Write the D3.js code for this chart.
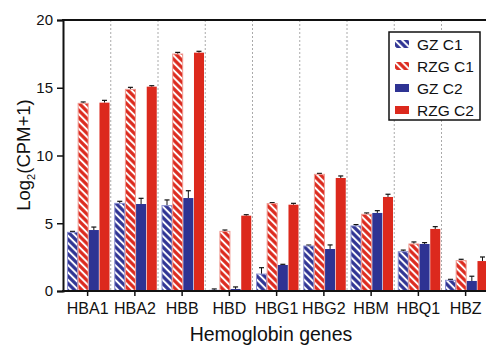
<!DOCTYPE html>
<html>
<head>
<meta charset="utf-8">
<script src="https://cdn.jsdelivr.net/npm/d3@7"></script>
<style>
  body { margin: 0; background: #fff; }
  svg text { font-family: "Liberation Sans", Arial, sans-serif; fill: #111; }
</style>
</head>
<body>
<svg id="chart" width="486" height="346"></svg>
<script>
const genes = ["HBA1", "HBA2", "HBB", "HBD", "HBG1", "HBG2", "HBM", "HBQ1", "HBZ"];
const series = ["GZ C1", "RZG C1", "GZ C2", "RZG C2"];
const gzC1 = [4.33, 6.47, 6.3, 0.05, 1.25, 3.32, 4.8, 2.9, 0.79];
const gzC1Err = [0.07, 0.15, 0.42, 0.1, 0.47, 0.07, 0.1, 0.12, 0.07];
const rzgC1 = [13.85, 14.88, 17.49, 4.4, 6.45, 8.61, 5.66, 3.47, 2.24];
const rzgC1Err = [0.1, 0.15, 0.12, 0.1, 0.07, 0.07, 0.1, 0.15, 0.1];
const gzC2 = [4.5, 6.42, 6.86, 0.15, 1.92, 3.1, 5.76, 3.47, 0.74];
const gzC2Err = [0.22, 0.42, 0.54, 0.15, 0.05, 0.3, 0.17, 0.1, 0.35];
const rzgC2 = [13.9, 15.08, 17.59, 5.56, 6.37, 8.34, 6.94, 4.58, 2.21];
const rzgC2Err = [0.17, 0.07, 0.1, 0.07, 0.1, 0.15, 0.2, 0.17, 0.3];
const yTicks = [0, 5, 10, 15, 20];

const blue = "#2e3393", red = "#dc291d";
const seriesStyle = [
  { color: blue, hatch: true, edge: "#8a8fd0" },
  { color: red, hatch: true, edge: "#f09a92" },
  { color: blue, hatch: false },
  { color: red, hatch: false }
];
const values = [gzC1, rzgC1, gzC2, rzgC2];
const errors = [gzC1Err, rzgC1Err, gzC2Err, rzgC2Err];

const svg = d3.select("#chart");
const plotLeft = 63, plotTop = 20, plotBottom = 291;

// hatch patterns
const defs = svg.append("defs");
seriesStyle.forEach((s, i) => {
  if (!s.hatch) return;
  const p = defs.append("pattern")
    .attr("id", "hatch" + i)
    .attr("patternUnits", "userSpaceOnUse")
    .attr("width", 5.2).attr("height", 5.2)
    .attr("patternTransform", "rotate(-45)");
  p.append("rect").attr("width", 5.2).attr("height", 5.2).attr("fill", s.color);
  p.append("rect").attr("x", 1.6).attr("width", 2).attr("height", 5.2).attr("fill", "#fff");
});

const x = d3.scaleBand().domain(genes).range([64, 64 + 9 * 47.25]);
const xInner = d3.scaleBand().domain(series).range([3.5, 45.5]).paddingInner(0.06);
const y = d3.scaleLinear().domain([0, 20]).range([plotBottom, plotTop]);

// dotted separators
svg.append("g").selectAll("line")
  .data(genes.slice(1))
  .enter().append("line")
  .attr("x1", d => x(d) - 0.5).attr("x2", d => x(d) - 0.5)
  .attr("y1", plotTop).attr("y2", plotBottom)
  .attr("stroke", "#aaa").attr("stroke-width", 1)
  .attr("stroke-dasharray", "2,2");

// bars
const groups = svg.append("g").selectAll("g")
  .data(genes)
  .enter().append("g")
  .attr("transform", d => "translate(" + x(d) + ",0)");

groups.each(function(g, gi) {
  const grp = d3.select(this);
  series.forEach((s, si) => {
    const st = seriesStyle[si];
    const v = values[si][gi], e = errors[si][gi];
    const bx = xInner(s), bw = xInner.bandwidth();
    // error bar (upward)
    grp.append("line")
      .attr("x1", bx + bw / 2).attr("x2", bx + bw / 2)
      .attr("y1", y(v)).attr("y2", y(v + e))
      .attr("stroke", "#111").attr("stroke-width", 1);
    grp.append("line")
      .attr("x1", bx + bw / 2 - 2.5).attr("x2", bx + bw / 2 + 2.5)
      .attr("y1", y(v + e)).attr("y2", y(v + e))
      .attr("stroke", "#111").attr("stroke-width", 1.2);
    const r = grp.append("rect")
      .attr("x", bx).attr("width", bw)
      .attr("y", y(v)).attr("height", plotBottom - y(v));
    if (st.hatch) {
      r.attr("fill", "url(#hatch" + si + ")")
        .attr("stroke", st.edge).attr("stroke-width", 1);
    } else {
      r.attr("fill", st.color);
    }
  });
});

// frame top line
svg.append("line")
  .attr("x1", plotLeft - 1).attr("x2", 486)
  .attr("y1", plotTop).attr("y2", plotTop)
  .attr("stroke", "#111").attr("stroke-width", 2);

// y axis
const yAxis = svg.append("g")
  .attr("transform", "translate(" + plotLeft + ",0)")
  .call(d3.axisLeft(y).tickValues(yTicks).tickSize(6).tickPadding(4));
yAxis.select(".domain").attr("stroke", "#111").attr("stroke-width", 2);
yAxis.selectAll("line").attr("stroke", "#111").attr("stroke-width", 1.5);
yAxis.selectAll("text").style("font-size", "15px").attr("fill", "#111");

// x axis
const xAxis = svg.append("g")
  .attr("transform", "translate(0," + plotBottom + ")")
  .call(d3.axisBottom(x).tickSize(5).tickPadding(7).tickSizeOuter(0));
xAxis.select(".domain").attr("d", "M" + (plotLeft - 1) + ",0H486")
  .attr("stroke", "#111").attr("stroke-width", 2);
xAxis.selectAll("line").attr("stroke", "#111").attr("stroke-width", 1.5);
xAxis.selectAll("text").style("font-size", "16px").attr("fill", "#111");

// axis titles
svg.append("text")
  .attr("x", 271).attr("y", 341)
  .attr("text-anchor", "middle")
  .style("font-size", "19.5px")
  .text("Hemoglobin genes");

const yTitle = svg.append("text")
  .attr("transform", "translate(30,155) rotate(-90)")
  .attr("text-anchor", "middle")
  .style("font-size", "18.5px");
yTitle.append("tspan").text("Log");
yTitle.append("tspan").attr("dy", 5).style("font-size", "11px").text("2");
yTitle.append("tspan").attr("dy", -5).text("(CPM+1)");

// legend
const lg = svg.append("g").attr("transform", "translate(389,32)");
lg.append("rect")
  .attr("width", 91).attr("height", 88)
  .attr("fill", "#fff").attr("stroke", "#111").attr("stroke-width", 1.5);
series.forEach((s, i) => {
  const st = seriesStyle[i];
  const row = lg.append("g").attr("transform", "translate(6," + (12 + i * 22) + ")");
  row.append("rect")
    .attr("y", -4).attr("width", 14).attr("height", 8)
    .attr("fill", st.hatch ? "url(#hatch" + i + ")" : st.color);
  row.append("text")
    .attr("x", 22).attr("y", 5.5)
    .style("font-size", "15.5px")
    .text(s);
});
</script>
</body>
</html>
